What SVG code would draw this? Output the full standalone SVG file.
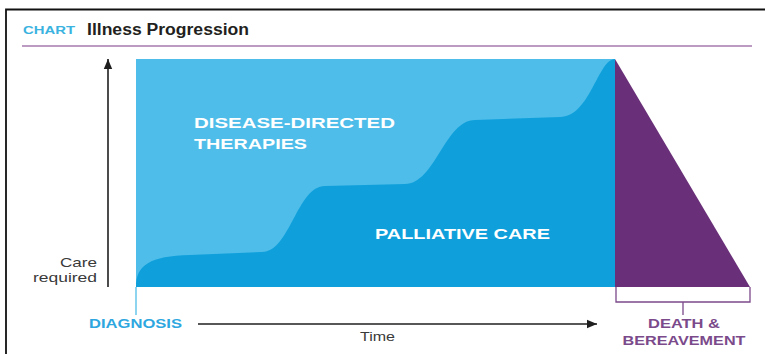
<svg xmlns="http://www.w3.org/2000/svg" width="765" height="354" viewBox="0 0 765 354">
  <defs>
    <marker id="arrowhead" viewBox="0 0 10 10" refX="10" refY="5" markerWidth="10" markerHeight="10" markerUnits="userSpaceOnUse" orient="auto">
      <path d="M0,0.8 L10,5 L0,9.2 Z" fill="#1f1f1f"/>
    </marker>
    <style>
      .sans { font-family: "Liberation Sans", Arial, sans-serif; }
      .caps { font-weight: bold; }
      .white { fill: #ffffff; font-size: 15.5px; }
      .blue { fill: #2ea7e0; font-size: 12px; }
      .plum { fill: #7b4a8b; font-size: 12px; }
      .axis-label { fill: #3a3a3a; font-size: 13px; }
      .axis { stroke: #1f1f1f; stroke-width: 1.6; fill: none; }
    </style>
  </defs>

  <rect width="765" height="354" fill="#ffffff"/>

  <!-- page frame -->
  <path d="M6,354 L6,9.5 L765,9.5" fill="none" stroke="#111111" stroke-width="1.8"/>

  <!-- heading -->
  <g id="title">
    <text class="sans caps" x="23" y="34" font-size="10" fill="#3bb3e0" textLength="52" lengthAdjust="spacingAndGlyphs">CHART</text>
    <text class="sans caps" x="87" y="35" font-size="16" fill="#231f20" textLength="162" lengthAdjust="spacingAndGlyphs">Illness Progression</text>
    <line x1="22" y1="46" x2="752" y2="46" stroke="#a57aad" stroke-width="1.4"/>
  </g>

  <!-- disease-directed therapies band -->
  <g id="disease-directed">
    <rect x="136" y="59" width="479" height="228" fill="#4fbde9"/>
    <text class="sans caps white" x="194" y="128" textLength="201" lengthAdjust="spacingAndGlyphs">DISEASE-DIRECTED</text>
    <text class="sans caps white" x="194" y="149" textLength="113" lengthAdjust="spacingAndGlyphs">THERAPIES</text>
  </g>

  <!-- palliative care band: rises in three smooth steps -->
  <g id="palliative-care">
    <path d="M136,287 C136,265 150,256 190,255 L262,252 C290,252 297,186 325,186 L405,184 C435,184 445,120 475,120 L560,117 C590,117 598,59 615,59 L615,287 Z" fill="#0fa0dc"/>
    <text class="sans caps white" x="375" y="239" textLength="175" lengthAdjust="spacingAndGlyphs">PALLIATIVE CARE</text>
  </g>

  <!-- death and bereavement -->
  <g id="bereavement">
    <path d="M615,59 L750,287 L615,287 Z" fill="#692f78"/>
    <path d="M616,287 L616,302 L750,302 L750,287 M683,302 L683,315" fill="none" stroke="#7b4a8b" stroke-width="1.3"/>
    <text class="sans caps plum" x="684" y="328" text-anchor="middle" textLength="72" lengthAdjust="spacingAndGlyphs">DEATH &amp;</text>
    <text class="sans caps plum" x="684" y="345" text-anchor="middle" textLength="123" lengthAdjust="spacingAndGlyphs">BEREAVEMENT</text>
  </g>

  <!-- diagnosis marker -->
  <g id="diagnosis">
    <line x1="136" y1="287" x2="136" y2="315" stroke="#4fbde9" stroke-width="1.3"/>
    <text class="sans caps blue" x="89" y="328" textLength="93" lengthAdjust="spacingAndGlyphs">DIAGNOSIS</text>
  </g>

  <!-- axis labels -->
  <g id="care-required">
    <text class="sans axis-label" x="97" y="267" text-anchor="end" textLength="37" lengthAdjust="spacingAndGlyphs">Care</text>
    <text class="sans axis-label" x="97" y="282" text-anchor="end" textLength="64" lengthAdjust="spacingAndGlyphs">required</text>
  </g>
  <g id="time">
    <text class="sans axis-label" x="360" y="341" textLength="35" lengthAdjust="spacingAndGlyphs">Time</text>
  </g>

  <!-- connectors: axes -->
  <g id="connectors">
    <line class="axis" x1="108" y1="287" x2="108" y2="59" marker-end="url(#arrowhead)"/>
    <line class="axis" x1="198" y1="324" x2="597" y2="324" marker-end="url(#arrowhead)"/>
  </g>
</svg>
